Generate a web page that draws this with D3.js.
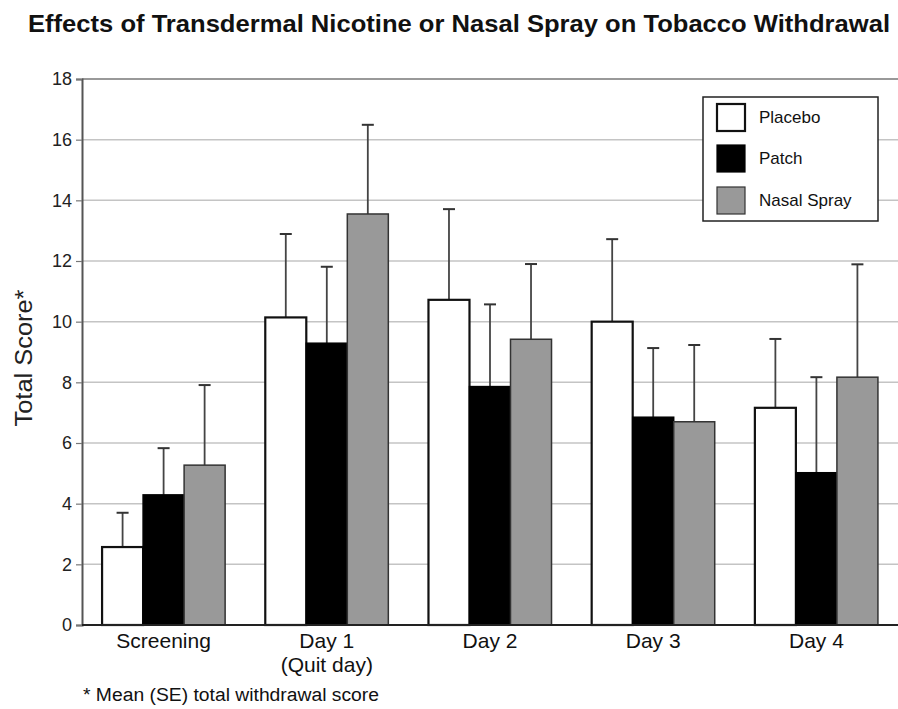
<!DOCTYPE html>
<html>
<head>
<meta charset="utf-8">
<script src="https://cdn.jsdelivr.net/npm/d3@7"></script>
<style>
  html, body { margin: 0; padding: 0; background: #fff; }
  text { font-family: "Liberation Sans", Arial, Helvetica, sans-serif; }
</style>
</head>
<body>
<svg id="chart" width="898" height="709"></svg>
<script>
// ---- Data ----
const categories = ["Screening", "Day 1|(Quit day)", "Day 2", "Day 3", "Day 4"];
const seriesNames = ["Placebo", "Patch", "Nasal Spray"];
const placeboMean = [2.57, 10.14, 10.72, 10.0, 7.16];
const placeboSE   = [1.13, 2.75, 2.99, 2.72, 2.27];
const patchMean   = [4.29, 9.29, 7.86, 6.85, 5.02];
const patchSE     = [1.54, 2.52, 2.71, 2.28, 3.15];
const sprayMean   = [5.27, 13.55, 9.42, 6.70, 8.17];
const spraySE     = [2.64, 2.94, 2.48, 2.53, 3.72];
const yTicks = [0, 2, 4, 6, 8, 10, 12, 14, 16, 18];

const means = [placeboMean, patchMean, sprayMean];
const ses = [placeboSE, patchSE, spraySE];
const fills = ["#ffffff", "#000000", "#999999"];
const strokes = ["#111111", "#000000", "#333333"];
const strokeW = [2.2, 1.5, 1.5];

const svg = d3.select("#chart");
const mLeft = 82, mRight = 898, mTop = 79, mBottom = 625;

const x0 = d3.scaleBand().domain(categories).range([mLeft, mRight])
  .paddingInner(0.246).paddingOuter(0.123);
const x1 = d3.scaleBand().domain(seriesNames).range([0, x0.bandwidth()]).padding(0);
const y = d3.scaleLinear().domain([0, 18]).range([mBottom, mTop]);

// Title
svg.append("text")
  .attr("x", 28).attr("y", 32)
  .attr("font-size", 24).attr("font-weight", "bold").attr("fill", "#111")
  .attr("textLength", 862).attr("lengthAdjust", "spacingAndGlyphs")
  .text("Effects of Transdermal Nicotine or Nasal Spray on Tobacco Withdrawal");

// Gridlines
svg.append("g").selectAll("line").data(yTicks.filter(d => d > 0)).join("line")
  .attr("x1", mLeft).attr("x2", mRight)
  .attr("y1", d => y(d)).attr("y2", d => y(d))
  .attr("stroke", d => d === 18 ? "#999" : "#c4c4c4")
  .attr("stroke-width", d => d === 18 ? 2 : 1.5);

// Y axis
const yAxis = d3.axisLeft(y).tickValues(yTicks).tickSize(6).tickPadding(4).tickFormat(d3.format("d"));
const ya = svg.append("g").attr("transform", `translate(${mLeft},0)`).call(yAxis);
ya.select(".domain").attr("stroke", "#555").attr("stroke-width", 2);
ya.selectAll(".tick line").attr("stroke", "#777").attr("stroke-width", 1.2);
ya.selectAll(".tick text").attr("font-size", 18).attr("fill", "#222")
  .attr("font-family", "'Liberation Sans', Arial, sans-serif");

// Y label
svg.append("text")
  .attr("transform", `translate(32,${358}) rotate(-90)`)
  .attr("text-anchor", "middle").attr("font-size", 23).attr("fill", "#222")
  .attr("textLength", 137).attr("lengthAdjust", "spacingAndGlyphs")
  .text("Total Score*");

// Bars + error bars
const groups = svg.append("g").selectAll("g").data(categories).join("g")
  .attr("transform", d => `translate(${x0(d)},0)`);

seriesNames.forEach((s, si) => {
  const cx = x1(s) + x1.bandwidth() / 2;
  groups.append("line")
    .attr("x1", cx).attr("x2", cx)
    .attr("y1", (d, i) => y(means[si][i]))
    .attr("y2", (d, i) => y(means[si][i] + ses[si][i]))
    .attr("stroke", "#444").attr("stroke-width", 1.8);
  groups.append("line")
    .attr("x1", cx - 6).attr("x2", cx + 6)
    .attr("y1", (d, i) => y(means[si][i] + ses[si][i]))
    .attr("y2", (d, i) => y(means[si][i] + ses[si][i]))
    .attr("stroke", "#333").attr("stroke-width", 2);
});
seriesNames.forEach((s, si) => {
  groups.append("rect")
    .attr("x", x1(s)).attr("width", x1.bandwidth())
    .attr("y", (d, i) => y(means[si][i]))
    .attr("height", (d, i) => y(0) - y(means[si][i]))
    .attr("fill", fills[si]).attr("stroke", strokes[si]).attr("stroke-width", strokeW[si]);
});

// X axis baseline
svg.append("line").attr("x1", mLeft).attr("x2", mRight).attr("y1", y(0)).attr("y2", y(0))
  .attr("stroke", "#222").attr("stroke-width", 2);

// X labels
const xl = svg.append("g").selectAll("text").data(categories).join("text")
  .attr("x", d => x0(d) + x0.bandwidth() / 2).attr("y", 648)
  .attr("text-anchor", "middle").attr("font-size", 21).attr("fill", "#111");
xl.each(function(d) {
  const parts = d.split("|");
  d3.select(this).selectAll("tspan").data(parts).join("tspan")
    .attr("x", x0(d) + x0.bandwidth() / 2).attr("dy", (p, i) => i === 0 ? 0 : 23.5)
    .text(p => p);
});

// Footnote
svg.append("text").attr("x", 83).attr("y", 701).attr("font-size", 18).attr("fill", "#111")
  .attr("textLength", 296).attr("lengthAdjust", "spacingAndGlyphs")
  .text("* Mean (SE) total withdrawal score");

// Legend
const lg = svg.append("g");
lg.append("rect").attr("x", 703).attr("y", 97).attr("width", 175).attr("height", 124)
  .attr("fill", "#fff").attr("stroke", "#222").attr("stroke-width", 1.5);
const legY = [104, 145, 187];
seriesNames.forEach((s, si) => {
  lg.append("rect").attr("x", 717).attr("y", legY[si]).attr("width", 28).attr("height", 27)
    .attr("fill", fills[si]).attr("stroke", strokes[si]).attr("stroke-width", si === 0 ? 2.2 : 1.2);
  lg.append("text").attr("x", 759).attr("y", legY[si] + 19).attr("font-size", 17).attr("fill", "#111")
    .text(s);
});
</script>
</body>
</html>
